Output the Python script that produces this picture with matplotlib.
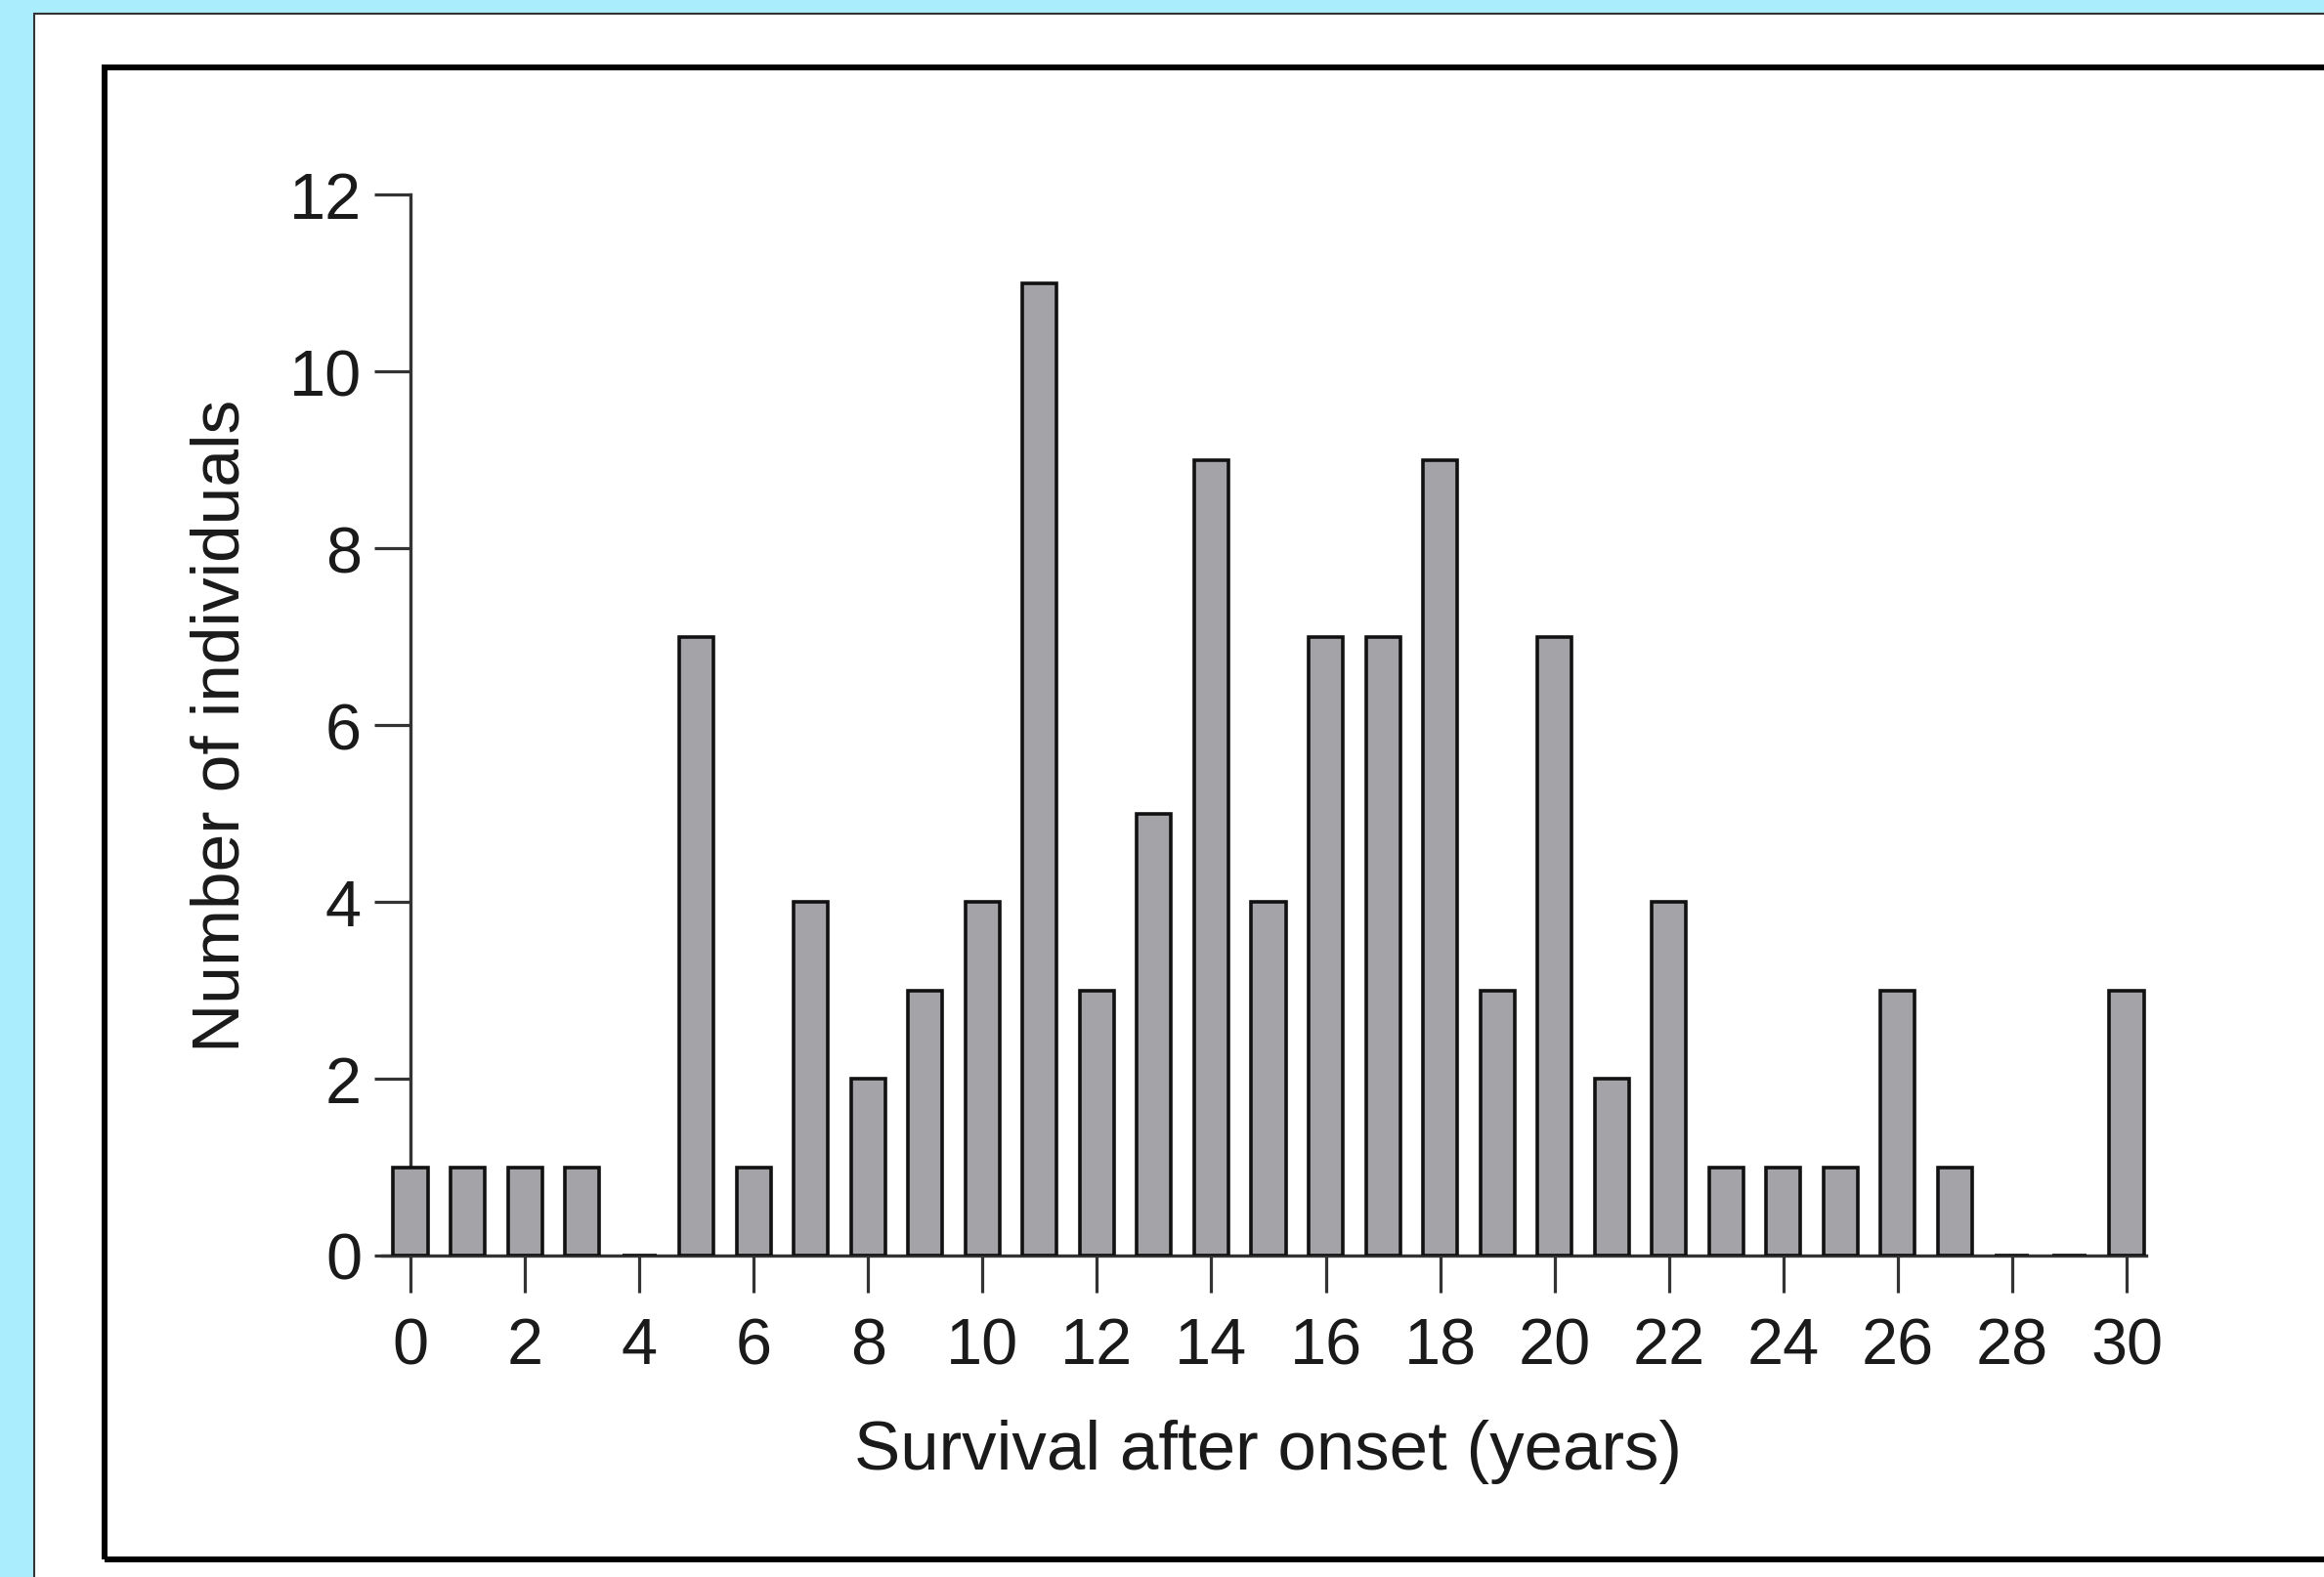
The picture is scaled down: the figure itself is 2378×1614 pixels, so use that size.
import matplotlib
matplotlib.use("Agg")
from matplotlib import pyplot as plt
from matplotlib.patches import Rectangle

# survival after onset (years) -> number of individuals
years = list(range(0, 31))
counts = [1, 1, 1, 1, 0, 7, 1, 4, 2, 3, 4, 11, 3, 5, 9, 4,
          7, 7, 9, 3, 7, 2, 4, 1, 1, 1, 3, 1, 0, 0, 3]
x_ticks = list(range(0, 31, 2))
y_ticks = list(range(0, 13, 2))

plt.rcParams["font.family"] = ["Liberation Sans", "DejaVu Sans"]

W, H = 2378, 1615
fig = plt.figure(figsize=(W / 100, H / 100), dpi=100)
fig.patch.set_facecolor("#aaeefd")

# white panel and the black frame around the chart
fig.patches.append(Rectangle((35 / W, -0.1), 1.2, 1.1 - 15 / H, transform=fig.transFigure,
                             facecolor="white", edgecolor="#333333", linewidth=1.5, zorder=-3))
fig.patches.append(Rectangle((107 / W, 18 / H), 1.2, (1597 - 70) / H, transform=fig.transFigure,
                             facecolor="none", edgecolor="black", linewidth=4.3, zorder=-2))

# axes: data x=0 at 420px, x=30 at 2176px, y=0 at 1286px, y=12 at 200px
ux = (2176 - 420) / 30
x0, x1 = -0.5, 30.35
left = 420 + x0 * ux
right = 420 + x1 * ux
ax = fig.add_axes([left / W, (H - 1286) / H, (right - left) / W, (1286 - 200) / H])
ax.set_facecolor("none")

ax.bar(years, counts, width=0.6, color="#a3a3a8", edgecolor="#111111", linewidth=2.6, zorder=3)

ax.set_xlim(x0, x1)
ax.set_ylim(0, 12)
ax.spines["top"].set_visible(False)
ax.spines["right"].set_visible(False)
ax.spines["left"].set_position(("data", 0))
for s in ("left", "bottom"):
    ax.spines[s].set_color("#333333")
    ax.spines[s].set_linewidth(2.4)

ax.set_xticks(x_ticks)
ax.set_yticks(y_ticks)
ax.tick_params(axis="both", direction="out", length=27, width=2.3, color="#333333",
               labelsize=48, labelcolor="#1a1a1a")
ax.tick_params(axis="x", pad=18)
ax.tick_params(axis="y", pad=9)

fig.text(1297 / W, 1 - 1486 / H, "Survival after onset (years)", ha="center", va="center",
         fontsize=51, color="#1a1a1a")
fig.text(227 / W, 1 - 743 / H, "Number of individuals", ha="center", va="center",
         rotation=90, fontsize=50, color="#1a1a1a")

fig.savefig("out.png", dpi=100, facecolor=fig.get_facecolor())
